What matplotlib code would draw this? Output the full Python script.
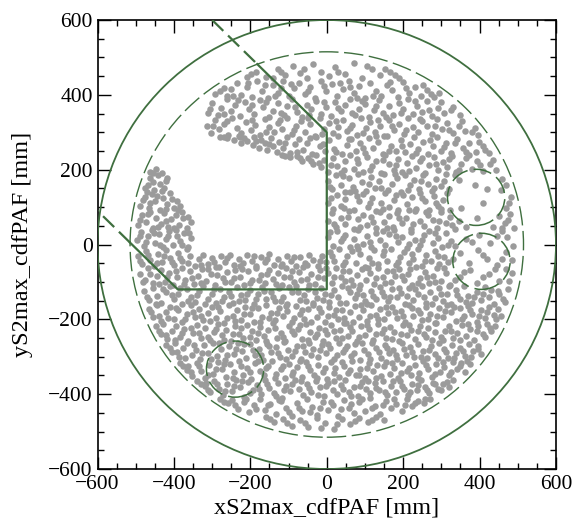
import numpy as np
import matplotlib.pyplot as plt
from matplotlib.patches import Circle
from matplotlib.ticker import MultipleLocator

plt.rcParams['font.family'] = ['Liberation Serif', 'DejaVu Serif']

# S2 max positions [mm], interleaved x, y; grouped in 50 mm bands in y
hits_xy = [
    -210,448, -185,462, -160,447, -140,444, -128,470, -110,452, -88,478, -70,458, -52,445, -35,482, -15,462, 5,449, 22,475, 48,455, 70,486, 92,446, 118,468, 140,452, 165,460, 190,444,
    -198,455, -120,460, -60,470, 30,462, 105,478, 152,470, 178,452,
    -292,402, -270,418, -262,396, -250,415, -236,432, -224,400, -210,420, -196,395, -183,436, -170,410, -155,392, -142,425, -128,405, -120,418, -115,438, -100,397, -86,418, -72,432, -58,401, -44,422, -30,392, -16,437, -2,410, 14,428, 28,396, 42,415, 57,438, 60,420, 70,404, 85,424, 100,392, 113,432, 128,410, 143,398, 157,427, 172,412, 186,394, 200,433, 215,405, 230,420, 246,398, 262,412, 280,393, 294,405,
    -280,410, -245,398, -205,432, -162,426, -135,396, -93,428, -50,410, -8,424, 35,432, 78,392, 120,398, 165,434, 208,418, 252,425, 272,402,
    -312,352, -300,377, -286,345, -277,366, -262,388, -250,356, -241,373, -226,343, -214,381, -203,361, -190,349, -176,386, -166,368, -151,341, -140,358, -128,379, -113,347, -104,370, -90,389, -78,355, -64,342, -53,374, -40,362, -27,384, -16,350, -2,367, 11,344, 22,380, 37,357, 48,372, 61,388, 74,346, 85,363, 99,376, 110,341, 124,359, 137,385, 148,351, 162,369, 173,345, 188,378, 199,362, 212,389, 226,348, 237,371, 250,355, 263,383, 275,343, 290,366, 308,352, 326,360, 349,345,
    -305,362, -270,350, -232,385, -195,372, -158,380, -120,352, -84,368, -46,346, -8,381, 30,364, 67,352, 92,384, 130,370, 156,342, 195,352, 232,384, 268,360, 300,380, 330,368,
    -314,318, -303,297, -292,332, -281,308, -268,322, -259,293, -247,337, -235,311, -224,299, -211,328, -199,305, -188,319, -175,292, -163,335, -152,314, -139,300, -128,326, -116,309, -103,338, -92,296, -80,317, -67,330, -56,302, -43,321, -31,291, -19,339, -7,310, 5,326, 17,298, 29,315, 42,333, 53,303, 66,320, 78,293, 90,337, 103,312, 114,327, 127,300, 140,318, 151,291, 164,334, 176,306, 189,323, 201,296, 213,339, 226,313, 238,301, 250,329, 263,317, 276,294, 289,336, 301,308, 315,325, 330,297, 346,318, 362,303, 380,300, 395,292,
    -298,316, -262,330, -230,290, -195,334, -158,302, -122,334, -86,306, -50,338, -12,296, 24,330, 60,311, 96,299, 133,332, 170,318, 207,306, 244,336, 282,316, 320,306, 355,330, 388,312,
    -280,288, -262,284, -244,280, -228,287, -224,272, -209,277, -194,266, -190,286, -178,259, -172,280, -161,270, -157,252, -146,285, -142,262,
    -130,247, -124,275, -114,259, -103,288, -96,244, -84,268, -73,281, -62,253, -51,272, -39,243, -28,287, -17,262, -5,249, 6,278, 18,256, 30,289, 41,241, 53,266, 64,281, 76,250, 88,270, 99,244, 111,285, 122,258, 135,273, 146,242, 158,289, 169,263, 182,250, 193,278, 205,246, 217,268, 229,286, 240,254, 252,275, 265,243, 277,262, 288,288, 300,251, 313,271, 326,245, 341,283, 357,258, 373,270, 390,248, 408,262, 424,244,
    -268,288, -218,285, -185,276, -152,268, -110,270, -78,248, -45,284, -10,268, 24,246, 58,283, 94,258, 128,289, 163,249, 198,264, 234,244, 270,280, 306,260, 336,270, 365,247, 398,275, 415,252,
    -462,193, -447,201, -431,192, -455,190, -118,238, -96,233, -78,236, -64,222, -49,230, -37,214, -28,238, -16,207, -8,225, -110,236, -70,231, -42,224, -20,218,
    4,195, 15,231, 26,211, 38,192, 49,224, 60,239, 72,203, 83,218, 95,195, 106,234, 118,209, 129,224, 141,191, 152,238, 164,214, 175,200, 187,229, 198,193, 210,219, 222,236, 233,205, 245,224, 256,191, 268,212, 280,233, 291,198, 303,221, 315,207, 327,237, 339,194, 352,216, 365,230, 380,203, 394,222, 410,196, 426,214, 442,200,
    10,212, 44,200, 78,228, 112,198, 146,226, 180,213, 215,196, 250,231, 286,216, 320,228, 345,200, 372,238, 400,212, 435,226,
    -468,160, -463,178, -452,145, -441,186, -437,163, -425,150, -418,179, -470,141, -475,150, -455,168, -432,143, -422,170,
    3,170, 14,148, 25,186, 36,160, 47,141, 58,177, 69,155, 81,188, 92,166, 103,143, 115,181, 126,152, 138,170, 149,189, 160,146, 172,162, 183,179, 195,141, 206,187, 218,158, 229,172, 241,147, 252,185, 264,163, 276,142, 287,176, 299,157, 311,188, 321,149, 335,186, 345,172, 388,160, 420,148, 460,175, 455,145,
    8,155, 42,182, 75,144, 110,162, 143,150, 178,188, 212,145, 246,170, 280,150, 306,170, 470,160,
    -488,104, -476,128, -466,97, -457,136, -449,115, -437,93, -428,124, -419,108, -410,138, -400,97, -392,117, -383,103, -482,120, -462,112, -444,130, -420,95, -404,122, -390,92,
    4,112, 15,95, 27,131, 38,104, 49,122, 61,139, 72,92, 84,116, 95,134, 107,101, 118,125, 130,90, 141,111, 153,137, 164,99, 176,120, 187,93, 199,133, 210,108, 222,126, 233,96, 245,138, 256,115, 268,91, 280,129, 291,104, 303,120, 314,137, 322,93, 352,98, 410,110, 470,97, 482,128,
    10,125, 44,98, 78,130, 112,112, 146,95, 182,133, 216,92, 250,124, 286,110, 300,96, 476,112,
    -494,52, -483,78, -472,61, -463,88, -455,44, -446,70, -434,56, -425,84, -415,47, -407,68, -396,80, -388,53, -376,72, -367,44, -356,60, -488,66, -468,82, -442,48, -420,62, -400,45, -380,86, -362,74,
    3,63, 14,85, 25,47, 37,72, 48,56, 59,89, 71,41, 82,67, 94,80, 105,52, 117,74, 128,43, 139,88, 151,61, 162,77, 174,46, 185,84, 197,58, 208,70, 220,42, 231,89, 243,63, 254,49, 266,80, 277,66, 289,45, 300,86, 312,58, 323,74, 335,42, 346,62, 364,48, 392,72, 436,48, 451,76, 466,58, 480,82, 490,45,
    20,56, 55,74, 88,48, 122,60, 158,44, 190,70, 226,56, 260,86, 294,64, 328,52, 458,44, 475,66,
    -496,12, -486,33, -478,-4, -469,22, -458,38, -449,5, -440,27, -430,-8, -421,15, -412,36, -402,0, -393,24, -383,9, -373,31, -364,-6, -355,18, -490,24, -472,8, -452,30, -436,-2, -415,22, -396,38, -378,-2, -360,32,
    4,20, 15,-3, 26,35, 37,9, 49,26, 60,-8, 71,14, 83,38, 94,2, 106,23, 117,-6, 129,31, 140,11, 152,-2, 163,28, 175,39, 186,6, 198,20, 209,-9, 221,33, 232,13, 244,-1, 255,26, 267,37, 278,4, 290,18, 301,-7, 313,30, 324,10, 336,-4, 365,14, 398,25, 428,3, 472,20, 488,-5, 460,36,
    9,34, 43,18, 78,-4, 112,8, 146,36, 180,22, 214,2, 250,12, 284,30, 318,-2, 380,6, 445,22,
    -495,-30, -484,-52, -474,-18, -463,-41, -452,-57, -441,-26, -431,-47, -420,-14, -410,-35, -399,-55, -389,-22, -378,-44, -367,-12, -357,-31, -346,-58, -490,-45, -468,-28, -445,-50, -425,-30, -404,-46, -383,-35, -362,-50,
    -335,-40, -323,-28, -312,-53, -300,-36, -289,-59, -277,-30, -266,-47, -254,-27, -243,-56, -231,-38, -220,-50, -208,-29, -196,-44, -185,-58, -173,-33, -162,-48, -150,-26, -139,-55, -127,-39, -116,-52, -104,-30, -93,-45, -81,-57, -70,-34, -58,-49, -47,-27, -35,-41, -24,-58, -12,-31, -3,-47,
    -330,-55, -295,-48, -260,-36, -226,-58, -190,-30, -156,-40, -120,-58, -86,-33, -52,-56, -18,-44,
    9,-20, 20,-44, 31,-13, 42,-55, 54,-32, 65,-18, 77,-49, 88,-26, 100,-59, 111,-37, 123,-15, 134,-52, 146,-28, 157,-43, 169,-11, 180,-56, 192,-34, 203,-21, 215,-50, 226,-39, 238,-12, 249,-58, 261,-27, 272,-45, 284,-17, 295,-53, 307,-33, 318,-48, 348,-22, 372,-50, 395,-15, 420,-38, 446,-55, 470,-20, 486,-42,
    14,-32, 48,-48, 82,-12, 118,-50, 150,-18, 186,-46, 222,-26, 256,-44, 290,-30, 330,-40, 408,-28, 458,-40,
    -488,-78, -477,-96, -467,-64, -456,-104, -445,-83, -434,-68, -424,-99, -413,-75, -402,-108, -391,-88, -380,-63, -370,-95, -359,-72, -348,-105, -337,-84, -326,-66, -315,-97, -304,-79, -293,-109, -283,-61, -272,-90, -261,-74, -250,-101, -239,-67, -228,-86, -217,-107, -206,-71, -195,-94, -184,-62, -173,-82, -162,-103, -151,-69, -140,-91, -129,-77, -118,-108, -107,-64, -96,-87, -85,-99, -74,-73, -63,-61, -52,-93, -41,-80, -30,-106, -19,-68, -8,-89,
    3,-75, 14,-102, 25,-63, 36,-86, 47,-97, 58,-70, 69,-109, 80,-81, 91,-65, 102,-94, 113,-76, 124,-105, 135,-62, 146,-88, 157,-72, 168,-100, 179,-84, 190,-66, 201,-96, 212,-78, 223,-108, 234,-61, 245,-90, 256,-73, 267,-103, 278,-83, 289,-64, 300,-98, 311,-75, 322,-107, 348,-88, 375,-68, 392,-104, 425,-80, 452,-97, 470,-66, 486,-75,
    -482,-100, -462,-80, -440,-106, -418,-88, -396,-70, -375,-106, -352,-90, -330,-104, -310,-66, -288,-82, -266,-100, -244,-90, -222,-65, -200,-104, -178,-96, -156,-80, -134,-106, -112,-86, -90,-70, -68,-96, -46,-108, -24,-88, -2,-64,
    20,-88, 42,-72, 64,-96, 86,-108, 108,-64, 130,-90, 152,-104, 174,-70, 196,-84, 218,-66, 240,-104, 262,-88, 284,-100, 306,-62, 336,-96, 360,-74, 410,-88, 440,-66, 476,-98,
    -478,-124, -466,-148, -455,-115, -445,-137, -433,-156, -422,-128, -411,-112, -400,-145, -389,-131, -378,-158, -367,-119, -356,-140, -345,-153, -334,-125, -323,-111, -312,-146, -301,-133, -290,-157, -279,-118, -268,-141, -257,-127, -246,-155, -235,-113, -224,-136, -213,-149, -202,-121, -191,-158, -180,-132, -169,-114, -158,-145, -147,-126, -136,-152, -125,-117, -114,-139, -103,-159, -92,-128, -81,-111, -70,-147, -59,-135, -48,-120, -37,-156, -26,-142, -15,-116, -4,-131,
    7,-153, 18,-122, 29,-139, 40,-112, 51,-157, 62,-128, 73,-144, 84,-118, 95,-135, 106,-159, 117,-124, 128,-146, 139,-113, 150,-137, 161,-152, 172,-120, 183,-141, 194,-129, 205,-158, 216,-115, 227,-148, 238,-133, 249,-111, 260,-155, 271,-126, 282,-143, 293,-117, 304,-150, 315,-131, 326,-159, 337,-122, 348,-145, 359,-112, 370,-138, 381,-156, 392,-126, 403,-147, 414,-114, 425,-140, 437,-158, 449,-124, 462,-146, 474,-118,
    -470,-140, -448,-158, -428,-120, -406,-136, -384,-116, -362,-152, -340,-135, -318,-158, -296,-120, -274,-152, -252,-138, -230,-150, -208,-132, -186,-145, -164,-125, -142,-140, -120,-150, -98,-114, -76,-128, -54,-152, -32,-126, -10,-148,
    12,-136, 34,-156, 56,-116, 78,-132, 100,-150, 122,-138, 144,-126, 166,-140, 188,-116, 210,-138, 232,-120, 254,-140, 276,-158, 298,-132, 320,-112, 342,-134, 364,-154, 386,-140, 408,-132, 430,-122, 452,-132, 466,-154,
    -466,-172, -455,-194, -444,-163, -433,-205, -422,-181, -411,-168, -400,-199, -389,-176, -378,-208, -367,-186, -356,-162, -345,-195, -334,-173, -323,-203, -312,-184, -301,-166, -290,-197, -279,-178, -268,-209, -257,-161, -246,-190, -235,-174, -224,-201, -213,-167, -202,-186, -191,-207, -180,-171, -169,-194, -158,-162, -147,-182, -136,-203, -125,-169, -114,-191, -103,-177, -92,-208, -81,-164, -70,-187, -59,-199, -48,-173, -37,-161, -26,-193, -15,-180, -4,-206,
    7,-168, 18,-189, 29,-200, 40,-175, 51,-209, 62,-181, 73,-165, 84,-194, 95,-176, 106,-205, 117,-163, 128,-188, 139,-172, 150,-200, 161,-184, 172,-166, 183,-196, 194,-178, 205,-207, 216,-161, 227,-190, 238,-174, 249,-202, 260,-168, 271,-185, 282,-209, 293,-171, 304,-193, 315,-162, 326,-181, 337,-204, 348,-170, 359,-192, 370,-164, 381,-186, 392,-207, 403,-175, 414,-196, 425,-167, 437,-188, 449,-172, 455,-192,
    -460,-180, -438,-190, -416,-196, -394,-170, -372,-200, -350,-180, -328,-190, -306,-204, -284,-168, -262,-196, -240,-205, -218,-185, -196,-170, -174,-206, -152,-196, -130,-184, -108,-164, -86,-196, -64,-176, -42,-206, -20,-170,
    2,-190, 24,-176, 46,-196, 68,-206, 90,-162, 112,-190, 134,-200, 156,-168, 178,-180, 200,-192, 222,-170, 244,-184, 266,-198, 288,-190, 310,-178, 332,-166, 354,-200, 376,-176, 398,-192, 420,-180, 442,-200,
    -446,-219, -434,-240, -428,-213, -417,-252, -406,-230, -395,-218, -384,-247, -373,-226, -362,-258, -351,-237, -340,-215, -329,-249, -318,-224, -307,-256, -296,-234, -285,-212, -274,-243, -263,-228, -252,-259, -241,-219, -230,-238, -219,-251, -208,-214, -197,-232, -186,-255, -175,-221, -164,-245, -153,-229, -142,-211, -131,-249, -120,-236, -109,-258, -98,-217, -87,-240, -76,-227, -65,-253, -54,-213, -43,-235, -32,-247, -21,-222, -10,-258,
    1,-239, 12,-216, 23,-250, 34,-228, 45,-211, 56,-244, 67,-232, 78,-257, 89,-219, 100,-241, 111,-225, 122,-254, 133,-212, 144,-237, 155,-249, 166,-220, 177,-233, 188,-259, 199,-215, 210,-243, 221,-228, 232,-252, 243,-217, 254,-238, 265,-223, 276,-256, 287,-211, 298,-246, 309,-230, 320,-218, 331,-251, 342,-236, 353,-214, 364,-244, 375,-226, 386,-255, 397,-219, 408,-239, 419,-213, 430,-232, 441,-217,
    -440,-230, -420,-242, -398,-255, -378,-236, -356,-222, -334,-236, -312,-246, -290,-226, -268,-254, -246,-238, -224,-222, -202,-248, -180,-236, -158,-258, -136,-222, -114,-246, -92,-230, -70,-214, -48,-254, -26,-240, -4,-228,
    18,-232, 40,-250, 62,-220, 84,-246, 106,-214, 128,-238, 150,-226, 172,-252, 194,-240, 216,-214, 238,-232, 260,-246, 282,-234, 304,-256, 326,-232, 348,-254, 370,-212, 392,-232, 414,-246, 428,-222,
    -420,-268, -404,-286, -398,-264, -387,-301, -376,-276, -365,-262, -354,-294, -343,-281, -332,-306, -321,-269, -310,-290, -299,-263, -288,-299, -277,-278, -266,-308, -255,-271, -244,-292, -233,-262, -222,-285, -211,-303, -200,-267, -189,-296, -178,-280, -167,-309, -156,-265, -145,-287, -134,-274, -123,-301, -112,-261, -101,-283, -90,-297, -79,-270, -68,-306, -57,-288, -46,-263, -35,-279, -24,-300, -13,-268, -2,-291,
    9,-276, 20,-305, 31,-262, 42,-286, 53,-272, 64,-298, 75,-266, 86,-309, 97,-281, 108,-293, 119,-264, 130,-277, 141,-303, 152,-269, 163,-290, 174,-282, 185,-307, 196,-262, 207,-295, 218,-274, 229,-300, 240,-267, 251,-285, 262,-304, 273,-271, 284,-292, 295,-263, 306,-280, 317,-302, 328,-268, 339,-289, 350,-276, 361,-297, 372,-265, 383,-284, 395,-270, 405,-292,
    -410,-276, -392,-288, -370,-302, -348,-268, -326,-290, -304,-306, -282,-262, -260,-296, -238,-278, -216,-266, -194,-282, -172,-296, -150,-272, -128,-290, -106,-306, -84,-284, -62,-272, -40,-294, -18,-282,
    4,-266, 26,-296, 48,-278, 70,-290, 92,-262, 114,-306, 136,-286, 158,-276, 180,-294, 202,-280, 224,-288, 246,-300, 268,-282, 290,-304, 312,-288, 334,-302, 356,-284, 378,-300, 396,-280,
    -385,-318, -366,-335, -363,-325, -352,-352, -341,-316, -330,-337, -319,-357, -308,-322, -297,-345, -286,-313, -275,-334, -264,-355, -253,-320, -242,-341, -231,-312, -220,-348, -209,-329, -198,-359, -187,-317, -176,-338, -165,-350, -154,-324, -143,-311, -132,-346, -121,-333, -110,-358, -99,-319, -88,-340, -77,-327, -66,-353, -55,-314, -44,-336, -33,-348, -22,-321, -11,-342, 0,-359,
    11,-315, 22,-331, 33,-354, 44,-326, 55,-343, 66,-312, 77,-349, 88,-334, 99,-357, 110,-318, 121,-339, 132,-323, 143,-352, 154,-313, 165,-345, 176,-330, 187,-356, 198,-317, 209,-337, 220,-350, 231,-322, 242,-344, 253,-311, 264,-333, 275,-355, 286,-319, 297,-341, 308,-327, 319,-349, 330,-314, 341,-334, 352,-318, 363,-340, 374,-320,
    -376,-326, -356,-342, -334,-324, -312,-348, -290,-332, -268,-320, -246,-356, -224,-326, -202,-340, -180,-312, -158,-330, -136,-356, -114,-324, -92,-350, -70,-312, -48,-326, -26,-356, -4,-330,
    18,-344, 40,-314, 62,-336, 84,-350, 106,-330, 128,-358, 150,-326, 172,-316, 194,-344, 216,-330, 238,-356, 260,-322, 282,-346, 304,-314, 326,-340, 348,-326, 368,-312,
    -340,-366, -320,-378, -317,-371, -305,-395, -294,-364, -282,-386, -271,-403, -260,-373, -249,-392, -238,-361, -227,-380, -216,-407, -205,-368, -194,-389, -183,-375, -172,-400, -161,-363, -150,-384, -139,-396, -128,-370, -117,-409, -106,-378, -95,-391, -84,-362, -73,-386, -62,-402, -51,-372, -40,-394, -29,-365, -18,-381, -7,-405,
    4,-369, 15,-388, 26,-399, 37,-375, 48,-362, 59,-393, 70,-380, 81,-406, 92,-367, 103,-387, 114,-398, 125,-371, 136,-390, 147,-364, 158,-403, 169,-378, 180,-394, 191,-366, 202,-385, 213,-401, 224,-372, 235,-389, 246,-363, 257,-381, 268,-397, 279,-369, 291,-386, 303,-374, 316,-367, 330,-362,
    -330,-374, -310,-388, -288,-372, -266,-392, -244,-378, -222,-364, -200,-396, -178,-386, -156,-372, -134,-406, -112,-388, -90,-372, -68,-364, -46,-384, -24,-402, -2,-378,
    20,-366, 42,-386, 64,-404, 86,-378, 108,-364, 130,-384, 152,-394, 174,-366, 196,-378, 218,-394, 240,-376, 262,-388, 284,-372, 300,-390, 320,-380,
    -280,-414, -258,-423, -249,-416, -233,-439, -218,-421, -203,-447, -190,-430, -176,-413, -161,-443, -148,-425, -133,-452, -120,-418, -106,-437, -92,-458, -79,-424, -65,-445, -52,-412, -38,-433, -25,-455, -11,-420, 3,-441, 16,-429, 30,-457, 44,-415, 58,-437, 71,-449, 85,-422, 99,-444, 112,-411, 126,-432, 140,-453, 154,-419, 168,-438, 182,-426, 196,-446, 210,-414, 224,-431, 239,-419, 254,-424, 270,-412,
    -270,-420, -240,-430, -212,-414, -184,-440, -154,-430, -126,-416, -100,-448, -72,-436, -44,-448, -18,-438, 10,-422, 36,-440, 64,-426, 92,-414, 118,-438, 146,-430, 176,-414, 204,-430, 232,-424, 258,-412,
    -160,-462, -138,-475, -115,-466, -92,-484, -70,-470, -48,-489, -26,-463, -4,-478, 18,-492, 40,-467, 62,-481, 85,-464, 108,-474, 130,-462, 150,-470,
    -148,-466, -104,-478, -58,-476, -14,-490, 28,-480, 74,-472, 118,-468,
]

# detector outlines [mm]
tpc_radius = 600
fiducial_radius = 515
spot_centers = [(391, 126), (405, -45), (-240, -333)]
spot_radius = 75

# cut boundary: solid inside the fiducial radius, dashed outside it
cut_x = [-182, 0, 0, -390, -515]
cut_y = [482, 300, -120, -120, 5]
cut_ext = [([-300, -182], [600, 482]), ([-515, -600], [5, 90])]

green = '#3f6f3f'
xy = np.array(hits_xy).reshape(-1, 2)

fig = plt.figure(figsize=(5.74, 5.22), dpi=100)
ax = fig.add_axes([0.170, 0.1015, 0.7986, 0.8602])

ax.scatter(xy[:, 0], xy[:, 1], s=22, c='#9b9b9b', linewidths=0, zorder=2)

ax.add_patch(Circle((0, 0), tpc_radius, fill=False, ec=green, lw=1.3, zorder=3))
ax.add_patch(Circle((0, 0), fiducial_radius, fill=False, ec=green, lw=1.0,
                    ls=(0, (14, 4)), zorder=3))
for c in spot_centers:
    ax.add_patch(Circle(c, spot_radius, fill=False, ec=green, lw=1.1,
                        ls=(0, (12, 4)), zorder=3))

ax.plot(cut_x, cut_y, color=green, lw=1.6, zorder=3)
for ex, ey in cut_ext:
    ax.plot(ex, ey, color=green, lw=1.6, ls=(0, (7, 3)), zorder=3)

ax.set_xlim(-600, 600)
ax.set_ylim(-600, 600)
ax.xaxis.set_major_locator(MultipleLocator(200))
ax.yaxis.set_major_locator(MultipleLocator(200))
ax.xaxis.set_minor_locator(MultipleLocator(50))
ax.yaxis.set_minor_locator(MultipleLocator(50))
ax.tick_params(which='both', direction='in', top=True, right=True,
               labelsize=15.5, width=1.0)
ax.tick_params(which='major', length=9)
ax.tick_params(which='minor', length=4.5)
ax.tick_params(axis='x', pad=4.5)
for sp in ax.spines.values():
    sp.set_linewidth(1.2)

ax.set_xlabel('xS2max_cdfPAF [mm]', fontsize=17.5, labelpad=2)
ax.set_ylabel('yS2max_cdfPAF [mm]', fontsize=17.5, labelpad=11)

fig.savefig('out.png', dpi=100)
